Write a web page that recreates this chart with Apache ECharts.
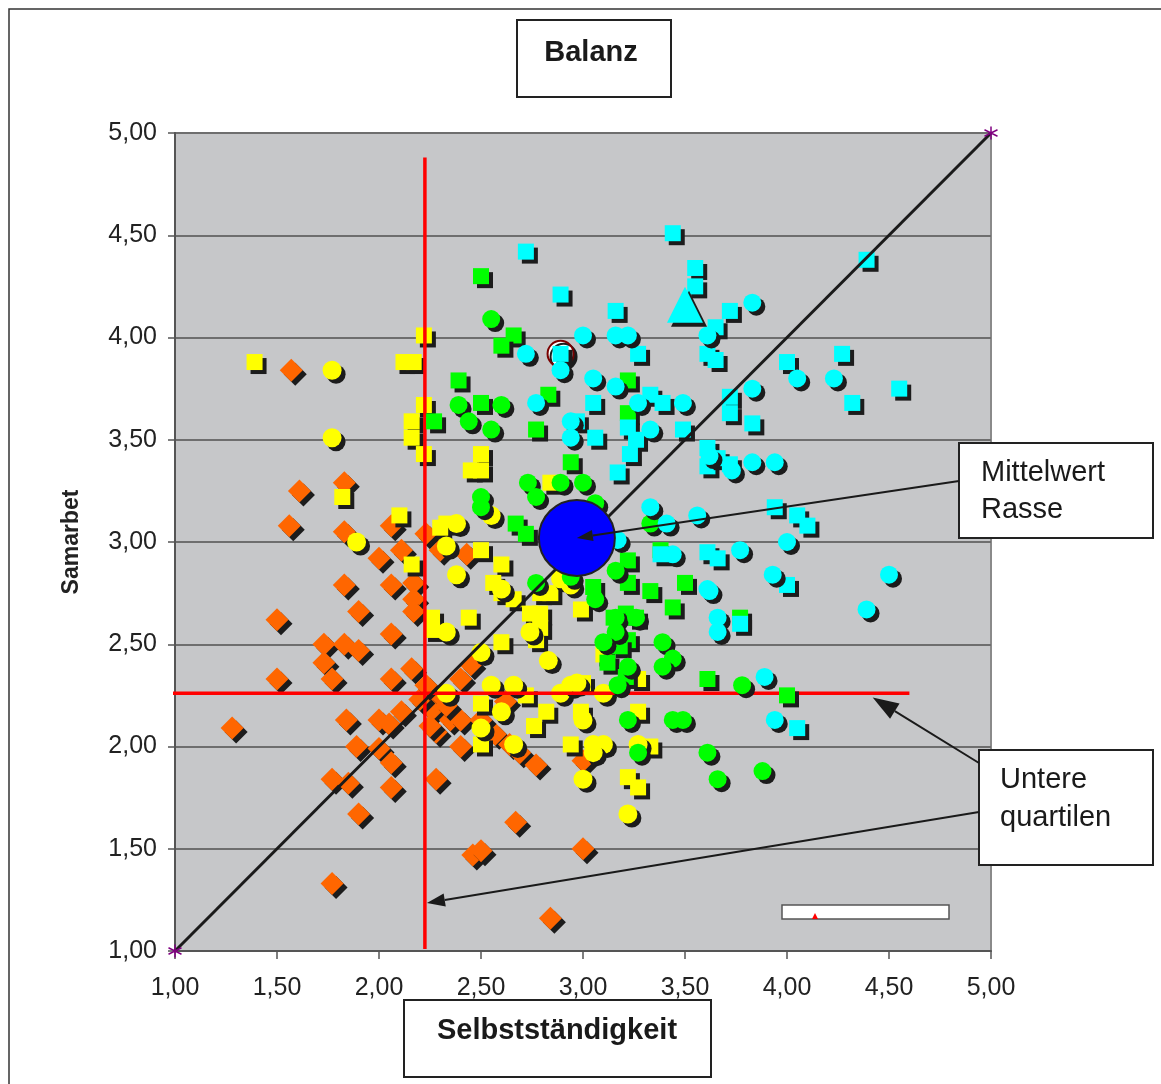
<!DOCTYPE html>
<html>
<head>
<meta charset="utf-8">
<script src="https://cdn.jsdelivr.net/npm/echarts@6/dist/echarts.min.js"></script>
<style>
html, body { margin: 0; padding: 0; background: #fff; }
#chart { width: 1161px; height: 1084px; }
</style>
</head>
<body>
<div id="chart"></div>
<script>
// Selbstständigkeit (x) vs Samarbet (y)
var orangeDiamonds = [
  [1.57,3.84],[1.61,3.25],[1.56,3.08],[1.83,3.29],[1.83,3.05],[2.00,2.92],[2.06,3.08],[2.11,2.96],
  [2.23,3.04],[1.83,2.79],[2.06,2.79],[2.17,2.80],[2.17,2.72],[2.17,2.66],[1.90,2.66],[1.50,2.62],
  [2.06,2.55],[1.73,2.50],[1.83,2.50],[1.90,2.47],[1.73,2.41],[1.50,2.33],[1.77,2.33],[2.06,2.33],
  [2.16,2.38],[1.28,2.09],[1.84,2.13],[2.00,2.13],[2.05,2.11],[2.11,2.17],[1.89,2.00],[2.00,1.99],
  [2.06,1.92],[1.77,1.84],[1.85,1.82],[2.06,1.80],[2.28,1.84],[1.90,1.67],[1.77,1.33],[2.28,2.07],
  [2.26,2.18],[2.40,2.33],[2.35,2.13],[2.40,2.13],[2.40,2.00],[2.57,2.06],[2.64,2.01],[2.69,1.97],
  [2.77,1.91],[3.00,1.93],[2.67,1.63],[2.46,1.47],[2.50,1.49],[3.00,1.50],[2.84,1.16],[2.43,2.94],
  [2.30,2.96],[2.45,2.40],[2.30,2.25],[2.20,2.23],[2.23,2.30],[2.33,2.20],[2.25,2.10],[2.62,2.22],
  [2.50,2.13]
];
var yellowSquares = [
  [1.39,3.88],[2.12,3.88],[2.17,3.88],[2.22,4.01],[2.22,3.67],[2.16,3.59],[2.16,3.51],[2.22,3.43],
  [1.82,3.22],[2.10,3.13],[2.16,2.89],[2.26,2.63],[2.26,2.57],[2.33,3.09],[2.50,3.43],[2.45,3.35],
  [2.50,3.35],[2.84,3.29],[2.50,2.96],[2.60,2.89],[2.56,2.80],[2.60,2.75],[2.66,2.72],[2.79,2.75],
  [2.84,2.75],[2.74,2.65],[2.79,2.65],[2.44,2.63],[2.79,2.58],[2.99,2.67],[2.77,2.52],[2.60,2.51],
  [2.50,2.21],[2.50,2.01],[2.72,2.25],[2.82,2.17],[2.76,2.10],[2.99,2.17],[2.94,2.01],[3.27,2.17],
  [3.33,2.00],[3.22,1.85],[3.27,1.80],[3.27,2.33],[3.00,2.31],[3.10,2.45],[2.30,3.07]
];
var yellowCircles = [
  [1.77,3.84],[1.77,3.51],[1.89,3.00],[2.55,3.13],[2.38,3.09],[2.33,2.98],[2.38,2.84],[2.33,2.56],
  [2.50,2.46],[2.83,2.42],[2.60,2.77],[2.74,2.56],[2.89,2.82],[2.94,2.79],[2.33,2.26],[2.55,2.30],
  [2.66,2.30],[2.60,2.17],[2.50,2.09],[2.66,2.01],[2.89,2.26],[2.94,2.30],[3.10,2.26],[3.00,2.13],
  [3.05,2.01],[3.10,2.01],[3.05,1.97],[3.00,1.84],[3.22,1.67],[3.27,2.01],[2.97,2.31]
];
var greenSquares = [
  [2.50,4.30],[2.66,4.01],[2.60,3.96],[2.39,3.79],[2.50,3.68],[2.83,3.72],[3.22,3.79],[2.77,3.55],
  [3.22,3.63],[2.94,3.39],[2.27,3.59],[2.67,3.09],[2.72,3.04],[3.05,2.78],[3.22,2.91],[3.22,2.80],
  [3.33,2.76],[3.44,2.68],[3.50,2.80],[3.21,2.65],[3.15,2.63],[3.26,2.63],[3.22,2.52],[3.18,2.49],
  [3.12,2.41],[3.21,2.34],[3.61,2.33],[3.77,2.63],[4.00,2.25],[3.38,2.96]
];
var greenCircles = [
  [2.55,4.09],[2.39,3.67],[2.60,3.67],[2.44,3.59],[2.55,3.55],[2.73,3.29],[2.89,3.29],[3.00,3.29],
  [2.50,3.22],[2.50,3.17],[2.77,3.22],[3.06,3.19],[2.77,2.80],[2.94,2.83],[3.06,2.72],[3.16,2.86],
  [3.16,2.63],[3.26,2.63],[3.16,2.56],[3.10,2.51],[3.39,2.51],[3.44,2.43],[3.39,2.39],[3.22,2.39],
  [3.33,3.09],[3.17,2.30],[3.22,2.13],[3.44,2.13],[3.49,2.13],[3.27,1.97],[3.61,1.97],[3.66,1.84],
  [3.78,2.30],[3.88,1.88]
];
var cyanSquares = [
  [2.72,4.42],[3.44,4.51],[3.55,4.34],[3.55,4.25],[2.89,4.21],[3.16,4.13],[3.27,3.92],[3.61,3.92],
  [2.89,3.92],[3.05,3.68],[3.33,3.72],[3.39,3.68],[3.65,3.89],[3.65,4.05],[4.39,4.38],[3.72,4.13],
  [4.00,3.88],[4.27,3.92],[4.55,3.75],[3.72,3.71],[4.32,3.68],[2.97,3.59],[3.06,3.51],[3.22,3.56],
  [3.26,3.50],[3.49,3.55],[3.17,3.34],[3.23,3.43],[3.38,2.94],[3.61,3.46],[3.61,3.37],[3.61,2.95],
  [3.83,3.58],[3.72,3.63],[3.66,3.41],[3.72,3.38],[3.94,3.17],[4.05,3.13],[4.10,3.08],[3.66,2.92],
  [4.00,2.79],[3.77,2.60],[4.05,2.09]
];
var cyanCircles = [
  [2.72,3.92],[3.00,4.01],[3.16,4.01],[3.22,4.01],[3.61,4.01],[2.89,3.84],[3.05,3.80],[3.16,3.76],
  [2.77,3.68],[3.27,3.68],[3.49,3.68],[3.83,4.17],[3.83,3.75],[4.05,3.80],[4.23,3.80],[2.94,3.59],
  [2.94,3.51],[3.33,3.55],[3.33,3.17],[3.56,3.13],[3.41,3.09],[3.44,2.94],[3.61,2.77],[3.17,3.01],
  [3.73,3.35],[3.83,3.39],[3.94,3.39],[4.00,3.00],[3.77,2.96],[3.93,2.84],[4.50,2.84],[4.39,2.67],
  [3.66,2.63],[3.66,2.56],[3.62,2.76],[3.89,2.34],[3.94,2.13],[3.62,3.42]
];
var cyanTriangle = [[3.50, 4.16]];
var markedPoint = [[2.89, 3.92]];
var meanRasse = [[2.97, 3.02]];
var balanceLine = [[1, 1], [5, 5]];
var quartileX = [[2.225, 1.01], [2.225, 4.88]];
var quartileY = [[0.93, 2.26], [4.60, 2.26]];
var axisTicks = [1, 1.5, 2, 2.5, 3, 3.5, 4, 4.5, 5];

var FONT = "'Liberation Sans', Arial, sans-serif";

function fmt(v) {
  return v.toFixed(2).replace('.', ',');
}

function pts(name, data, symbol, size, color, z) {
  return {
    name: name,
    type: 'scatter',
    data: data,
    symbol: symbol,
    symbolSize: size,
    z: z,
    silent: true,
    itemStyle: {
      color: color,
      opacity: 1,
      shadowColor: '#1c1c1c',
      shadowOffsetX: 4,
      shadowOffsetY: 4,
      shadowBlur: 0
    }
  };
}

var chart = echarts.init(document.getElementById('chart'));

var option = {
  animation: false,
  backgroundColor: '#ffffff',
  grid: {
    left: 175, top: 133, width: 816, height: 818,
    show: true,
    backgroundColor: '#c6c7c9',
    borderColor: '#8a8a8a',
    borderWidth: 2
  },
  xAxis: {
    type: 'value',
    min: axisTicks[0], max: axisTicks[axisTicks.length - 1], interval: 0.5,
    axisLine: { show: true, lineStyle: { color: '#555', width: 2 } },
    axisTick: { show: true, length: 8, lineStyle: { color: '#555', width: 1.5 } },
    splitLine: { show: false },
    axisLabel: {
      formatter: fmt, fontSize: 25, color: '#222', fontFamily: FONT, margin: 25,
      showMinLabel: true, showMaxLabel: true
    }
  },
  yAxis: {
    type: 'value',
    min: axisTicks[0], max: axisTicks[axisTicks.length - 1], interval: 0.5,
    name: 'Samarbet',
    nameLocation: 'middle',
    nameRotate: 90,
    nameGap: 92,
    nameTextStyle: { fontSize: 23, fontWeight: 'bold', color: '#222', fontFamily: FONT },
    axisLine: { show: true, lineStyle: { color: '#555', width: 2 } },
    axisTick: { show: true, length: 7, lineStyle: { color: '#555', width: 1.5 } },
    splitLine: { show: true, lineStyle: { color: '#6e6e6e', width: 2 } },
    axisLabel: {
      formatter: fmt, fontSize: 25, color: '#222', fontFamily: FONT, margin: 18,
      showMinLabel: true, showMaxLabel: true
    }
  },
  series: [
    pts('Orange', orangeDiamonds, 'diamond', 23, '#ff6600', 2),
    pts('Gelb Quadrat', yellowSquares, 'rect', 16, '#ffff00', 3),
    pts('Gelb Kreis', yellowCircles, 'circle', 19, '#ffff00', 4),
    {
      name: 'Quartil x', type: 'line', data: quartileX, z: 5, clip: false,
      showSymbol: false, silent: true,
      lineStyle: { color: '#ff0000', width: 3.5 }
    },
    {
      name: 'Quartil y', type: 'line', data: quartileY, z: 5, clip: false,
      showSymbol: false, silent: true,
      lineStyle: { color: '#ff0000', width: 3.5 }
    },
    pts('Grün Quadrat', greenSquares, 'rect', 16, '#00ff00', 6),
    pts('Grün Kreis', greenCircles, 'circle', 18, '#00ff00', 7),
    {
      name: 'Markiert', type: 'scatter', data: markedPoint, symbol: 'circle', symbolSize: 26, z: 8,
      silent: true,
      itemStyle: {
        color: '#ffffff', opacity: 1, borderColor: '#7a0000', borderWidth: 2,
        shadowColor: '#1c1c1c', shadowOffsetX: 3, shadowOffsetY: 3, shadowBlur: 0
      }
    },
    pts('Türkis Quadrat', cyanSquares, 'rect', 16, '#00ffff', 9),
    pts('Türkis Kreis', cyanCircles, 'circle', 18, '#00ffff', 10),
    pts('Türkis Dreieck', cyanTriangle, 'triangle', 36, '#00ffff', 11),
    {
      name: 'Balanz', type: 'line', data: balanceLine, z: 12, showSymbol: false, silent: true,
      lineStyle: { color: '#1a1a1a', width: 3 }
    },
    {
      name: 'Ecken', type: 'scatter', data: balanceLine, z: 12, clip: false, silent: true,
      symbol: 'path://M0,-10L0,10M-8.7,-5L8.7,5M-8.7,5L8.7,-5',
      symbolSize: 13,
      itemStyle: { color: 'none', opacity: 1, borderColor: '#800080', borderWidth: 1.5 }
    },
    {
      name: 'Mittelwert Rasse', type: 'scatter', data: meanRasse, z: 13, silent: true,
      symbol: 'circle', symbolSize: 76,
      itemStyle: { color: '#0000ff', opacity: 1, borderColor: '#222', borderWidth: 2 }
    }
  ]
};

chart.setOption(option);

function arrow(x1, y1, x2, y2, len, wid) {
  var a = Math.atan2(y2 - y1, x2 - x1);
  var c = Math.cos(a), s = Math.sin(a);
  var bx = x2 - len * c, by = y2 - len * s;
  return [
    {
      type: 'line', z: 30, silent: true,
      shape: { x1: x1, y1: y1, x2: bx, y2: by },
      style: { stroke: '#1a1a1a', lineWidth: 2 }
    },
    {
      type: 'polygon', z: 30, silent: true,
      shape: { points: [[x2, y2], [bx - wid / 2 * s, by + wid / 2 * c], [bx + wid / 2 * s, by - wid / 2 * c]] },
      style: { fill: '#1a1a1a' }
    }
  ];
}

function box(x, y, w, h) {
  return {
    type: 'rect', z: 25, silent: true,
    shape: { x: x, y: y, width: w, height: h },
    style: { fill: '#ffffff', stroke: '#222', lineWidth: 2 }
  };
}

function label(text, x, y, size, weight, align) {
  return {
    type: 'text', z: 26, silent: true, x: x, y: y,
    style: {
      text: text, fill: '#1a1a1a', fontSize: size, fontWeight: weight, fontFamily: FONT,
      align: align, verticalAlign: 'middle'
    }
  };
}

var meanPx = chart.convertToPixel({ gridIndex: 0 }, meanRasse[0]);
var tipY = chart.convertToPixel({ gridIndex: 0 }, [4.42, 2.24]);
var tipX = chart.convertToPixel({ gridIndex: 0 }, [2.235, 1.235]);

var graphics = [
  {
    type: 'rect', z: 1, silent: true,
    shape: { x: 9, y: 9, width: 1200, height: 1200 },
    style: { fill: 'none', stroke: '#333', lineWidth: 1.5 }
  },
  box(517, 20, 154, 77),
  label('Balanz', 591, 53, 29, 'bold', 'center'),
  box(404, 1000, 307, 77),
  label('Selbstständigkeit', 557, 1031, 29, 'bold', 'center'),
  box(959, 443, 194, 95),
  label('Mittelwert', 981, 473, 29, 'normal', 'left'),
  label('Rasse', 981, 510, 29, 'normal', 'left'),
  box(979, 750, 174, 115),
  label('Untere', 1000, 780, 29, 'normal', 'left'),
  label('quartilen', 1000, 818, 29, 'normal', 'left'),
  {
    type: 'rect', z: 20, silent: true,
    shape: { x: 782, y: 905, width: 167, height: 14 },
    style: { fill: '#ffffff', stroke: '#555', lineWidth: 1.5 }
  },
  {
    type: 'polygon', z: 21, silent: true,
    shape: { points: [[815, 913], [812, 919], [818, 919]] },
    style: { fill: '#ff0000' }
  }
];
graphics = graphics
  .concat(arrow(959, 481, meanPx[0], meanPx[1], 16, 11))
  .concat(arrow(979, 763, tipY[0], tipY[1], 26, 18))
  .concat(arrow(979, 812, tipX[0], tipX[1], 18, 13));

chart.setOption({ graphic: graphics });
</script>
</body>
</html>
